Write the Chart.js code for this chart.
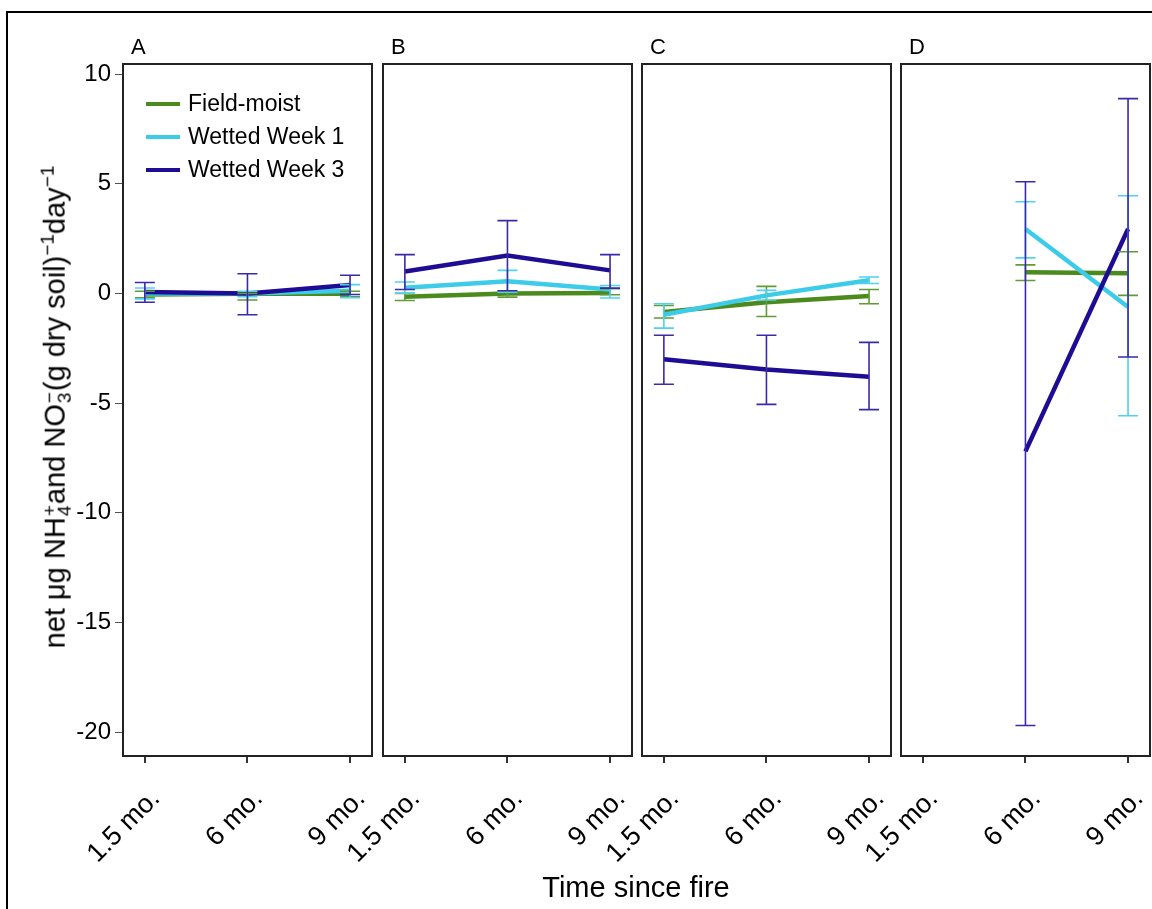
<!DOCTYPE html>
<html>
<head>
<meta charset="utf-8">
<script src="https://cdn.jsdelivr.net/npm/chart.js@4.4.0/dist/chart.umd.min.js"></script>
<style>
  body { margin: 0; width: 1152px; height: 909px; overflow: hidden; background: #fff; position: relative;
         font-family: "Liberation Sans", Arial, sans-serif; color: #000; }
  canvas { position: absolute; left: 0; top: 0; }
  .frame { position: absolute; left: 6px; top: 11px; width: 1300px; height: 1000px; border: 2.5px solid #000; }
  .letter { position: absolute; top: 36px; font-size: 22px; line-height: 22px; }
  .legend { position: absolute; left: 146px; top: 87px; font-size: 23px; }
  .legend div { height: 33px; display: flex; align-items: center; }
  .legend span.sw { display: inline-block; width: 34px; height: 4px; margin-right: 8px; }
  .ytitle { position: absolute; left: 54px; top: 407px; transform: translate(-50%, -50%) rotate(-90deg);
            white-space: nowrap; font-size: 29px; }
  .ss { display: inline-flex; flex-direction: column; font-size: 19px; line-height: 15px; vertical-align: 9px; margin: 0 1px; }
  .ytitle sup { font-size: 19px; }
  .xtitle { position: absolute; left: 636px; top: 887px; transform: translate(-50%, -50%); font-size: 29px; white-space: nowrap; }
</style>
</head>
<body>
<div class="frame"></div>
<canvas id="c0" width="1300" height="909"></canvas>
<canvas id="c1" width="1300" height="909"></canvas>
<canvas id="c2" width="1300" height="909"></canvas>
<canvas id="c3" width="1300" height="909"></canvas>

<div class="letter" style="left:131px">A</div>
<div class="letter" style="left:391px">B</div>
<div class="letter" style="left:650px">C</div>
<div class="letter" style="left:909px">D</div>

<div class="legend" id="legend"></div>

<div class="ytitle">net μg NH<span class="ss"><span>+</span><span>4</span></span>and NO<span class="ss"><span>−</span><span>3</span></span>(g dry soil)<sup>−1</sup>day<sup>−1</sup></div>
<div class="xtitle">Time since fire</div>

<script>
const times = ["1.5 mo.", "6 mo.", "9 mo."];
const panels = ["A", "B", "C", "D"];
const seriesNames = ["Field-moist", "Wetted Week 1", "Wetted Week 3"];
const lineColors = ["#4b8a1d", "#3ccbe8", "#1f0c94"];
const barColors = ["#5f9b36", "#4fd2ee", "#3a2aa8"];
const yTicks = [-20, -15, -10, -5, 0, 5, 10];

// one row per panel (A-D), one value per time
const fieldMean = [[-0.05, -0.02, -0.02], [-0.15, 0.0, 0.02], [-0.85, -0.4, -0.12], [null, 0.97, 0.92]];
const fieldLo   = [[-0.2, -0.3, -0.15], [-0.32, -0.17, -0.06], [-1.12, -1.05, -0.47], [null, 0.59, -0.09]];
const fieldHi   = [[0.1, 0.0, 0.1], [0.0, 0.08, 0.21], [-0.55, 0.32, 0.18], [null, 1.3, 1.9]];

const wet1Mean = [[0.0, 0.0, 0.12], [0.26, 0.55, 0.18], [-0.97, -0.09, 0.6], [null, 2.94, -0.62]];
const wet1Lo   = [[-0.25, -0.15, -0.2], [0.01, 0.06, -0.21], [-1.58, -0.3, 0.45], [null, 1.62, -5.58]];
const wet1Hi   = [[0.25, 0.1, 0.4], [0.52, 1.05, 0.36], [-0.47, 0.14, 0.75], [null, 4.18, 4.45]];

const wet3Mean = [[0.06, 0.0, 0.38], [1.0, 1.73, 1.05], [-3.0, -3.47, -3.8], [null, -7.2, 2.94]];
const wet3Lo   = [[-0.4, -0.97, -0.05], [0.18, 0.12, 0.24], [-4.14, -5.06, -5.3], [null, -19.7, -2.9]];
const wet3Hi   = [[0.5, 0.9, 0.83], [1.77, 3.32, 1.77], [-1.91, -1.91, -2.23], [null, 5.09, 8.88]];

const means = [fieldMean, wet1Mean, wet3Mean];
const lows = [fieldLo, wet1Lo, wet3Lo];
const highs = [fieldHi, wet1Hi, wet3Hi];

// layout of the four plot boxes
const boxLeft = [123, 383, 642, 901];
const boxRight = [372, 632, 891, 1150];
const boxTop = 64, boxBottom = 756;
const W = 1300, H = 909;
const yAxisW = 60, xAxisH = 110;
const font = "'Liberation Sans', Arial, sans-serif";

// legend
document.getElementById("legend").innerHTML = seriesNames
  .map((n, i) => `<div><span class="sw" style="background:${lineColors[i]}"></span>${n}</div>`)
  .join("");

const boxPlugin = {
  id: "box",
  beforeDatasetsDraw(chart) {
    const a = chart.chartArea, ctx = chart.ctx;
    ctx.save();
    ctx.strokeStyle = "#222";
    ctx.lineWidth = 2;
    ctx.strokeRect(a.left, a.top, a.width, a.height);
    ctx.restore();
  }
};

const errorBars = {
  id: "errorBars",
  afterDatasetsDraw(chart) {
    const { ctx, scales: { x, y } } = chart;
    ctx.save();
    chart.data.datasets.forEach(ds => {
      ctx.strokeStyle = ds.barColor;
      ctx.lineWidth = 1.6;
      ds.errLo.forEach((lo, i) => {
        const hi = ds.errHi[i];
        if (lo == null || hi == null) return;
        const px = x.getPixelForValue(i);
        const pLo = y.getPixelForValue(lo), pHi = y.getPixelForValue(hi);
        ctx.beginPath();
        ctx.moveTo(px, pLo); ctx.lineTo(px, pHi);
        ctx.moveTo(px - 10, pLo); ctx.lineTo(px + 10, pLo);
        ctx.moveTo(px - 10, pHi); ctx.lineTo(px + 10, pHi);
        ctx.stroke();
      });
    });
    ctx.restore();
  }
};

panels.forEach((name, p) => {
  const datasets = seriesNames.map((s, k) => ({
    label: s,
    data: means[k][p].map((v, i) => ({ x: i, y: v })),
    errLo: lows[k][p],
    errHi: highs[k][p],
    barColor: barColors[k],
    borderColor: lineColors[k],
    borderWidth: 4.5,
    pointRadius: 0,
    tension: 0,
    order: 2 - k
  }));

  new Chart(document.getElementById("c" + p), {
    type: "line",
    data: { datasets },
    options: {
      responsive: false,
      animation: false,
      events: [],
      layout: {
        padding: {
          left: boxLeft[p] - yAxisW,
          right: W - boxRight[p],
          top: boxTop,
          bottom: H - boxBottom - xAxisH
        }
      },
      plugins: { legend: { display: false }, tooltip: { enabled: false } },
      scales: {
        x: {
          type: "linear",
          min: -0.213,
          max: 2.214,
          afterBuildTicks: s => { s.ticks = times.map((t, i) => ({ value: i })); },
          afterFit: s => { s.height = xAxisH; },
          ticks: {
            autoSkip: false, minRotation: 45, maxRotation: 45,
            padding: 20, labelOffset: 11,
            color: "#000", font: { size: 27, family: font },
            callback: v => times[v]
          },
          grid: { drawOnChartArea: false, drawTicks: true, tickLength: 7, color: "#333", lineWidth: 2 },
          border: { display: false }
        },
        y: {
          display: p === 0,
          min: -21.09,
          max: 10.46,
          afterBuildTicks: s => { s.ticks = yTicks.map(v => ({ value: v })); },
          afterFit: s => { s.width = yAxisW; },
          ticks: {
            padding: 4, color: "#000", font: { size: 24, family: font },
            callback: v => String(v)
          },
          grid: { drawOnChartArea: false, drawTicks: true, tickLength: 8, color: "#555", lineWidth: 1 },
          border: { display: false }
        }
      }
    },
    plugins: [boxPlugin, errorBars]
  });
});
</script>
</body>
</html>
